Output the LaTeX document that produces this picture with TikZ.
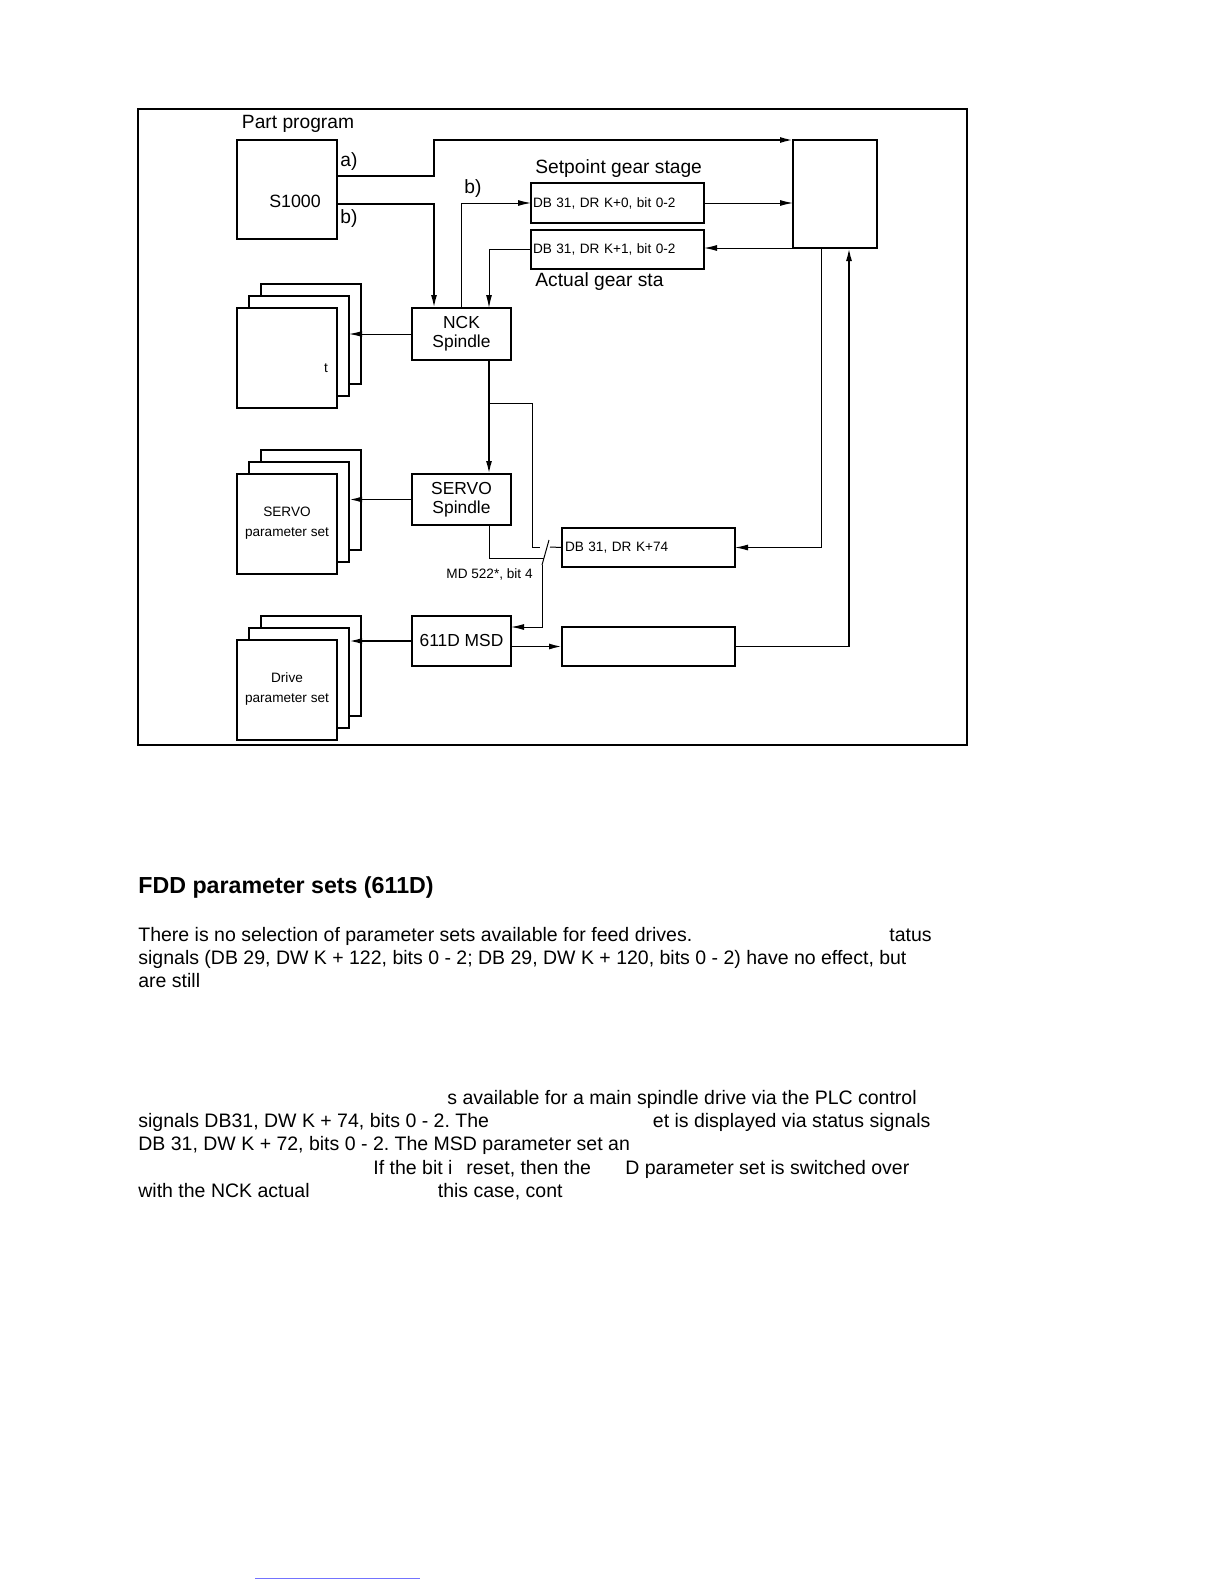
\documentclass[tikz,border=0pt]{standalone}
\usepackage{fontspec}
\setmainfont{Liberation Sans}
\usetikzlibrary{arrows.meta}
\frenchspacing
\begin{document}
\begin{tikzpicture}
[x=0.5pt,y=-0.5pt,>={Latex[length=6.5pt,width=3pt]},%
  boxdecorate/.style={draw,line width=1pt,inner sep=0pt,outer sep=0pt,fill=white,align=center,font=\fontsize{8.7}{9.5}\selectfont},%
  stackdecorate/.style={draw,line width=1pt,inner sep=0pt,outer sep=0pt,fill=white,minimum width=50pt,minimum height=50pt},%
  dbdecorate/.style={draw,line width=1pt,outer sep=0pt,inner ysep=0pt,inner xsep=1pt,text width=84.5pt,align=left,minimum height=19.5pt,font=\fontsize{6.8}{8}\selectfont},%
  biglabel/.style={inner sep=0pt,font=\fontsize{9.6}{11}\selectfont},%
  smalllabel/.style={inner sep=0pt,align=center,font=\fontsize{6.8}{10}\selectfont},%
  bodytext/.style={anchor=base west,inner sep=0pt,font=\fontsize{9.75}{12}\selectfont},%
  thinline/.style={line width=0.5pt},%
  thickline/.style={line width=0.9pt}]
\useasboundingbox (0,0) rectangle (1224,1584);
% frame
\draw[line width=1pt] (138,109) rectangle (967,745);
% boxes
\node (prog) at (287,189.5) [boxdecorate,minimum width=50pt,minimum height=49.5pt] {};
\node (s1000lbl) at (295,201) [biglabel,font=\fontsize{8.9}{11}\selectfont] {S1000};
\node (partlbl) at (298,124) [biglabel] {Part program};
\node (albl) at (340,162) [biglabel,anchor=west] {a)};
\node (blbl) at (340,219) [biglabel,anchor=west] {b)};
\node (plcbox) at (835,194) [boxdecorate,minimum width=42pt,minimum height=54pt] {};
\node (dbset) at (617.5,203) [dbdecorate,minimum height=20pt] {DB 31, DR K+0, bit 0-2};
\node (dbact) at (617.5,249.5) [dbdecorate] {DB 31, DR K+1, bit 0-2};
\node (setlbl) at (535,169) [biglabel,anchor=west] {Setpoint gear stage};
\node (actlbl) at (535,282) [biglabel,anchor=west] {Actual gear sta};
\node (gearb) at (473,189) [biglabel] {b)};
\node (nck) at (461.5,334) [boxdecorate,minimum width=49.5pt,minimum height=26pt] {NCK\\Spindle};
\node (servo) at (461.5,499.5) [boxdecorate,minimum width=49.5pt,minimum height=25.5pt] {SERVO\\Spindle};
\node (msd) at (461.5,641) [boxdecorate,minimum width=49.5pt,minimum height=25pt] {611D MSD};
\node (dbsel) at (648.5,547.5) [dbdecorate] {\hspace*{0.5pt}DB 31, DR K+74};
\node (emptybox) at (648.5,646.5) [dbdecorate] {};
\node (mdlbl) at (533,574) [smalllabel,anchor=east] {MD 522*, bit 4};
% parameter set stacks
\node (nckback) at (311,334) [stackdecorate] {};
\node (nckmid) at (299,346) [stackdecorate] {};
\node (nckfront) at (287,358) [stackdecorate] {};
\node (tlbl) at (326,368) [smalllabel] {t};
\node (servoback) at (311,500) [stackdecorate] {};
\node (servomid) at (299,512) [stackdecorate] {};
\node (servofront) at (287,524) [stackdecorate] {};
\node (servolbl) at (287,523) [smalllabel] {SERVO\\parameter set};
\node (driveback) at (311,666) [stackdecorate] {};
\node (drivemid) at (299,678) [stackdecorate] {};
\node (drivefront) at (287,690) [stackdecorate] {};
\node (drivelbl) at (287,689) [smalllabel] {Drive\\parameter set};
% switch points
\coordinate (nckbr) at (489,403);
\coordinate (swnck) at (540,547);
\coordinate (swdb) at (550,547);
\coordinate (swtop) at (549,540);
\coordinate (swbot) at (542,565);
\coordinate (swservo) at (544,558);
% lines
\draw[thickline,->] ([yshift=6.75pt]prog.east) -- ++(97,0) |- (plcbox.north west);
\draw[thickline,->] ([yshift=-7.25pt]prog.east) -| ([xshift=11pt]nck.north west);
\draw[thinline,->] (nck.north) |- (dbset.west);
\draw[thinline,->] (dbset.east) -- (dbset.east -| plcbox.west);
\draw[thinline,->] (plcbox.south west) -- (plcbox.south west -| dbact.east);
\draw[thinline,->] (dbact.west) -| ([xshift=-11pt]nck.north east);
\draw[thinline,->] (nck.west) -- (nck.west -| nckmid.east);
\draw[thickline,->] ([xshift=-11pt]nck.south east) -- ([xshift=-11pt]servo.north east);
\draw[thinline] (nckbr) -- ++(43,0) |- (swnck);
\draw[thickline,->] (servo.west) -- (servo.west -| servomid.east);
\draw[thinline] ([xshift=-11pt]servo.south east) |- (swservo);
\draw[thinline] (swtop) -- (swbot);
\draw[thinline,->] (swbot) |- ([yshift=7pt]msd.east);
\draw[thinline] (swdb) -- (dbsel.west);
\draw[thinline,->] ([xshift=-7pt]plcbox.south) |- (dbsel.east);
\draw[thickline,->] (msd.east |- emptybox.west) -- (emptybox.west);
\draw[thickline,->] (emptybox.east) -| ([xshift=7pt]plcbox.south);
\draw[thickline,->] (msd.west) -- (msd.west -| drivemid.east);
% text below
\node (head) at (138,893) [bodytext,font=\fontsize{11.6}{14}\selectfont\bfseries] {FDD parameter sets (611D)};
\node (ta) at (138,941) [bodytext] {There is no selection of parameter sets available for feed drives.};
\node (tb) at (889,941) [bodytext] {tatus};
\node (tc) at (138,964) [bodytext] {signals (DB 29, DW K + 122, bits 0 - 2; DB 29, DW K + 120, bits 0 - 2) have no effect, but};
\node (td) at (138,987) [bodytext] {are still};
\node (te) at (447,1104) [bodytext] {s available for a main spindle drive via the PLC control};
\node (tf) at (138,1127) [bodytext] {signals DB31, DW K + 74, bits 0 - 2. The};
\node (tg) at (652.5,1127) [bodytext] {et is displayed via status signals};
\node (th) at (138,1150.5) [bodytext] {DB 31, DW K + 72, bits 0 - 2. The MSD parameter set an};
\node (ti) at (373,1174) [bodytext] {If the bit i};
\node (tj) at (466,1174) [bodytext] {reset, then the};
\node (tk) at (625,1174) [bodytext] {D parameter set is switched over};
\node (tl) at (138,1197) [bodytext] {with the NCK actual};
\node (tm) at (437.5,1197) [bodytext] {this case, cont};
% link line
\draw[line width=0.5pt,blue!55!white] (255,1578) -- (420,1578);
\end{tikzpicture}
\end{document}
